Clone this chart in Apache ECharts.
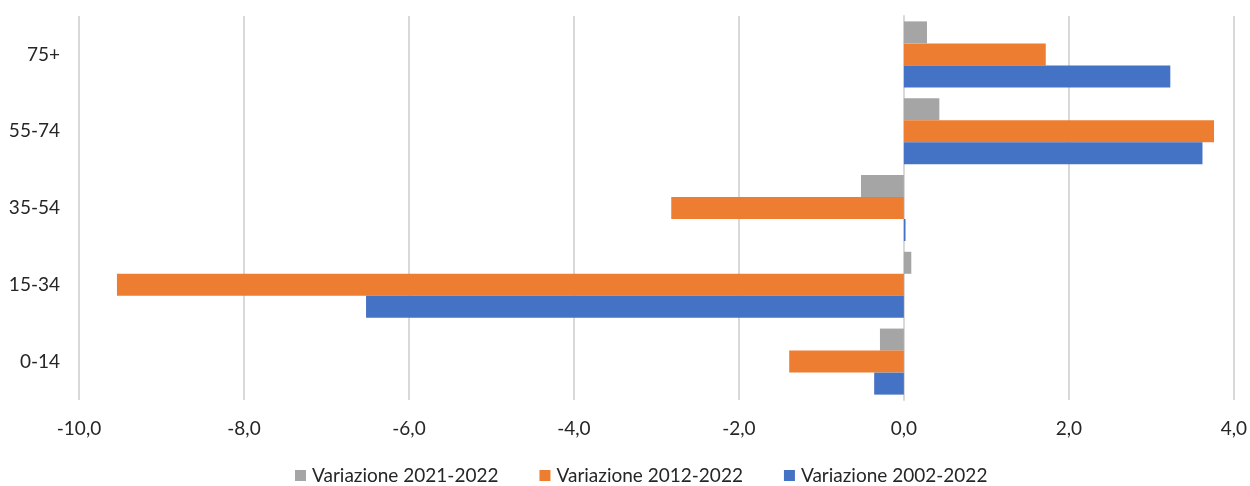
<!DOCTYPE html>
<html>
<head>
<meta charset="utf-8">
<script src="https://cdn.jsdelivr.net/npm/echarts@6/dist/echarts.min.js"></script>
<style>
  html, body { margin: 0; padding: 0; background: #fff; }
  #chart { width: 1250px; height: 486px; }
</style>
</head>
<body>
<div id="chart"></div>
<script>
// fasce d'età (dal basso verso l'alto)
const categories = ['0-14', '15-34', '35-54', '55-74', '75+']
const seriesNames = ['Variazione 2021-2022', 'Variazione 2012-2022', 'Variazione 2002-2022']
const var2021 = [-0.29, 0.09, -0.52, 0.43, 0.28]
const var2012 = [-1.39, -9.54, -2.82, 3.76, 1.72]
const var2002 = [-0.36, -6.52, 0.02, 3.62, 3.23]
const colors = ['#A5A5A5', '#ED7D31', '#4472C4']

const textColor = '#262626'
const fontFamily = 'Lato'

let myChart = echarts.init(document.getElementById('chart'))

let option = {
  animation: false,
  textStyle: { fontFamily: fontFamily },
  grid: {
    left: 79,
    right: 15,
    top: 16,
    bottom: 86
  },
  legend: {
    data: seriesNames,
    left: 290,
    top: 461,
    itemWidth: 11,
    itemHeight: 11,
    itemGap: 41,
    icon: 'rect',
    textStyle: {
      color: textColor,
      fontSize: 19,
      fontFamily: fontFamily,
      padding: [0, 0, 0, 1]
    }
  },
  xAxis: {
    type: 'value',
    min: -10,
    max: 4,
    interval: 2,
    axisLine: { show: false },
    axisTick: { show: false },
    splitLine: {
      show: true,
      lineStyle: { color: '#D9D9D9', width: 2 }
    },
    axisLabel: {
      color: textColor,
      fontSize: 19,
      margin: 19,
      formatter: (v) => v.toFixed(1).replace('.', ',')
    }
  },
  yAxis: {
    type: 'category',
    data: categories,
    axisTick: { show: false },
    axisLine: {
      show: true,
      onZero: true,
      lineStyle: { color: '#D9D9D9', width: 2 }
    },
    axisLabel: {
      color: textColor,
      fontSize: 19,
      margin: 19
    }
  },
  series: [
    {
      name: seriesNames[0],
      type: 'bar',
      data: var2021,
      barGap: '0%',
      barCategoryGap: '14%',
      itemStyle: { color: colors[0] }
    },
    {
      name: seriesNames[1],
      type: 'bar',
      data: var2012,
      barGap: '0%',
      barCategoryGap: '14%',
      itemStyle: { color: colors[1] }
    },
    {
      name: seriesNames[2],
      type: 'bar',
      data: var2002,
      barGap: '0%',
      barCategoryGap: '14%',
      itemStyle: { color: colors[2] }
    }
  ]
}

myChart.setOption(option)
</script>
</body>
</html>
